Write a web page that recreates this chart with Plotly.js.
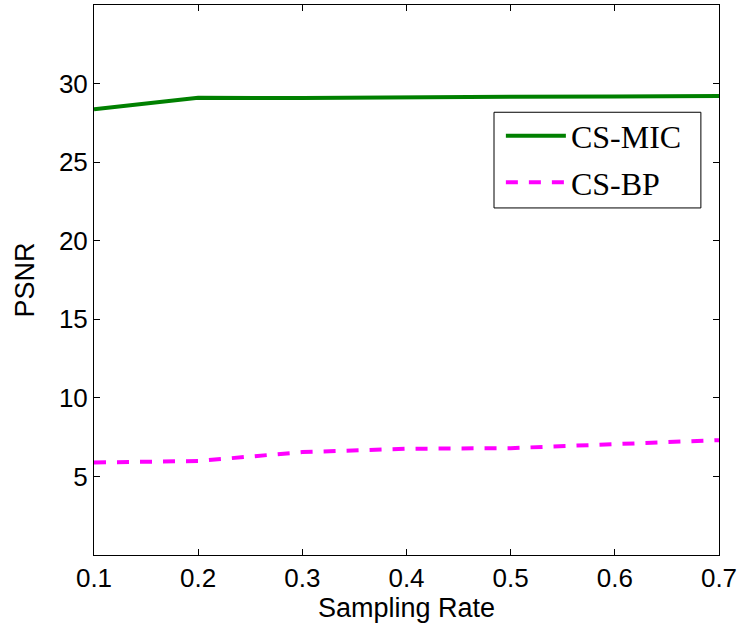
<!DOCTYPE html>
<html>
<head>
<meta charset="utf-8">
<script src="https://cdn.plot.ly/plotly-3.0.1.min.js"></script>
<style>html,body{margin:0;padding:0;background:#fff;}#chart{width:744px;height:634px;}</style>
</head>
<body>
<div id="chart"></div>
<script>
const samplingRate = [0.1, 0.2, 0.3, 0.4, 0.5, 0.6, 0.7];
const csMIC = [28.36, 29.1, 29.08, 29.14, 29.16, 29.18, 29.21];
const csBP = [5.89, 5.98, 6.55, 6.76, 6.8, 7.03, 7.31];
const xTicks = [0.1, 0.2, 0.3, 0.4, 0.5, 0.6, 0.7];
const xTickText = ['0.1', '0.2', '0.3', '0.4', '0.5', '0.6', '0.7'];
const yTicks = [5, 10, 15, 20, 25, 30];
const yTickText = ['5', '10', '15', '20', '25', '30'];

const traces = [
  {x: samplingRate, y: csMIC, name: 'CS-MIC', mode: 'lines', legendgroup: 'a',
   line: {color: '#008000', width: 4}},
  {x: samplingRate, y: csBP, name: 'CS-BP', mode: 'lines', legendgroup: 'b',
   line: {color: '#ff00ff', width: 4, dash: '12px,11px'}}
];

const axisCommon = {
  showline: true, linecolor: '#000', linewidth: 1, mirror: 'ticks',
  ticks: 'inside', ticklen: 6, tickcolor: '#000', tickwidth: 1,
  showgrid: false, zeroline: false,
  tickfont: {family: 'Liberation Sans, Arial, sans-serif', size: 26, color: '#000'}
};

const layout = {
  width: 744, height: 634,
  margin: {l: 94, r: 25, t: 5, b: 79},
  paper_bgcolor: '#fff', plot_bgcolor: '#fff',
  showlegend: true,
  xaxis: Object.assign({}, axisCommon, {
    range: [0.1, 0.7], tickvals: xTicks, ticktext: xTickText,
    title: {text: 'Sampling Rate', standoff: 5,
      font: {family: 'Liberation Sans, Arial, sans-serif', size: 27, color: '#000'}}
  }),
  yaxis: Object.assign({}, axisCommon, {
    range: [0, 35], tickvals: yTicks, ticktext: yTickText,
    title: {text: 'PSNR', standoff: 16,
      font: {family: 'Liberation Sans, Arial, sans-serif', size: 27, color: '#000'}}
  }),
  shapes: [{
    type: 'rect', xref: 'paper', yref: 'paper',
    x0: 0.64, x1: 0.971, y0: 0.631, y1: 0.805,
    line: {color: '#000', width: 1}, fillcolor: '#fff', layer: 'above'
  }],
  legend: {
    x: 0.651, y: 0.812, xanchor: 'left', yanchor: 'top',
    bgcolor: 'rgba(0,0,0,0)', borderwidth: 0,
    traceorder: 'grouped', tracegroupgap: 2, itemwidth: 60,
    font: {family: 'Liberation Serif, Times New Roman, serif', size: 32, color: '#000'}
  }
};

Plotly.newPlot('chart', traces, layout, {displayModeBar: false, staticPlot: true});
</script>
</body>
</html>
